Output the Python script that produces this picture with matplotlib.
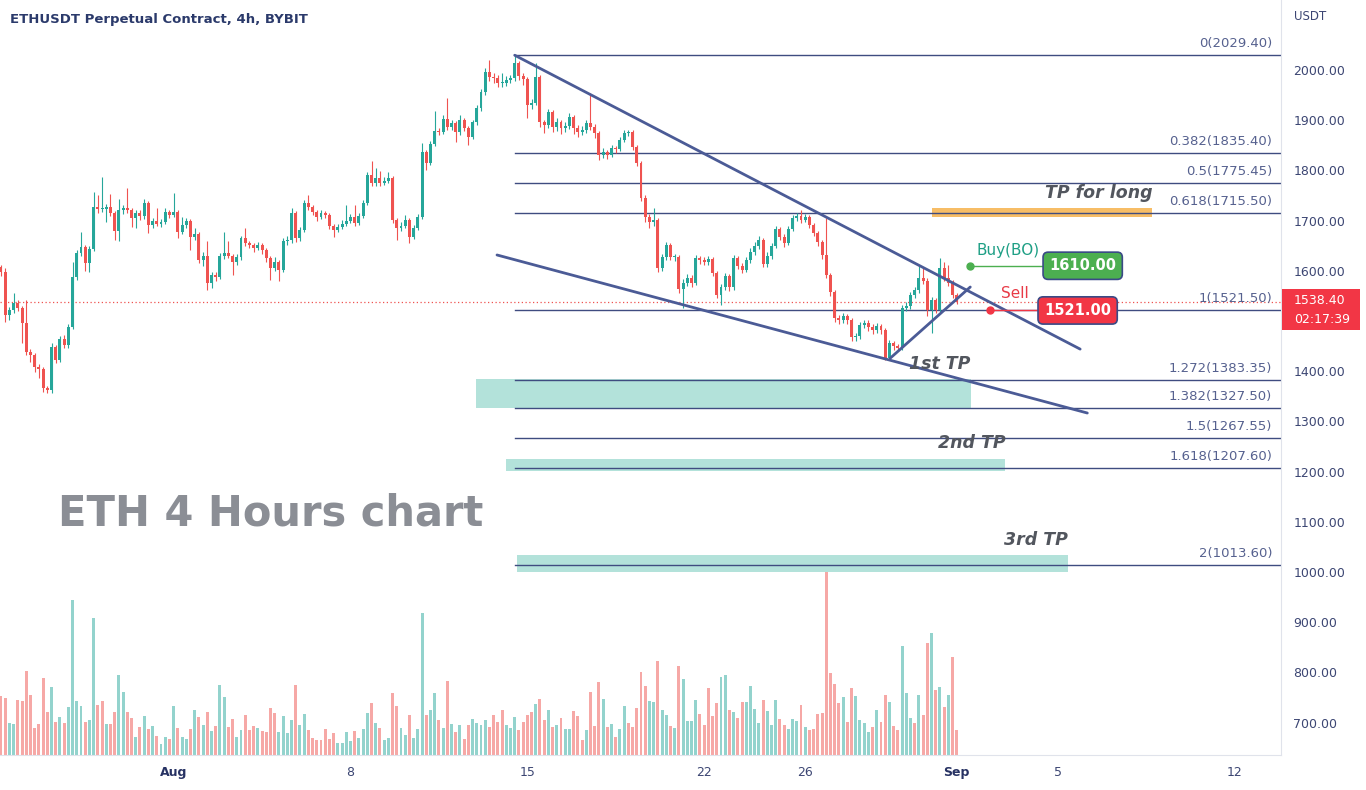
import matplotlib.pyplot as plt
import matplotlib.transforms as mtransforms
from matplotlib.patches import Rectangle

plt.rcParams['font.family'] = ['DejaVu Sans']

# ETHUSDT 4h candles (first one is cut at the left edge)
open0 = 1608
closes = [
    1597,
    1512, 1522, 1536, 1526, 1496, 1438, 1432, 1408, 1404, 1366,
    1362, 1448, 1422, 1464, 1452, 1488, 1588, 1635, 1647, 1615,
    1643, 1727, 1723, 1723, 1727, 1715, 1679, 1721, 1725, 1721,
    1705, 1715, 1709, 1735, 1691, 1699, 1693, 1697, 1717, 1711,
    1717, 1677, 1691, 1699, 1667, 1673, 1621, 1629, 1576, 1591,
    1588, 1629, 1635, 1629, 1617, 1627, 1665, 1655, 1651, 1645,
    1651, 1641, 1625, 1605, 1617, 1601, 1659, 1661, 1715, 1665,
    1681, 1735, 1727, 1717, 1707, 1715, 1711, 1689, 1681, 1687,
    1693, 1699, 1707, 1695, 1709, 1735, 1791, 1775, 1785, 1775,
    1779, 1785, 1701, 1685, 1689, 1701, 1667, 1685, 1707, 1837,
    1815, 1853, 1878, 1876, 1902, 1886, 1894, 1876, 1900, 1884,
    1866, 1896, 1924, 1956, 1996, 1986, 1984, 1974, 1974, 1980,
    1984, 2014, 1988, 1982, 1930, 1934, 1986, 1896, 1890, 1916,
    1886, 1896, 1884, 1888, 1906, 1884, 1876, 1880, 1894, 1886,
    1874, 1831, 1837, 1831, 1845, 1843, 1860, 1874, 1876, 1847,
    1815, 1745, 1707, 1697, 1701, 1605, 1627, 1651, 1627, 1627,
    1564, 1576, 1586, 1576, 1625, 1621, 1617, 1623, 1595, 1552,
    1568, 1590, 1568, 1625, 1609, 1601, 1621, 1637, 1649, 1661,
    1613, 1629, 1649, 1683, 1667, 1655, 1683, 1705, 1709, 1701,
    1707, 1691, 1675, 1657, 1631, 1591, 1558, 1506, 1502, 1510,
    1502, 1468, 1470, 1492, 1496, 1488, 1482, 1490, 1482, 1426,
    1456, 1450, 1446, 1526, 1530, 1552, 1562, 1586, 1580, 1522,
    1542, 1522, 1605, 1586, 1576, 1552, 1538.4,
]
highs = [
    1612,
    1605, 1528, 1556, 1542, 1530, 1542, 1444, 1436, 1414, 1408,
    1370, 1456, 1452, 1470, 1472, 1494, 1617, 1641, 1677, 1651,
    1649, 1757, 1751, 1787, 1733, 1753, 1719, 1743, 1731, 1765,
    1725, 1721, 1721, 1743, 1739, 1705, 1725, 1703, 1725, 1721,
    1755, 1721, 1707, 1705, 1703, 1685, 1677, 1637, 1659, 1597,
    1597, 1635, 1677, 1659, 1633, 1633, 1669, 1685, 1659, 1655,
    1657, 1655, 1645, 1629, 1627, 1621, 1665, 1669, 1725, 1719,
    1687, 1741, 1751, 1731, 1721, 1721, 1719, 1715, 1693, 1693,
    1701, 1731, 1713, 1731, 1715, 1741, 1797, 1819, 1805, 1799,
    1787, 1797, 1789, 1705, 1697, 1711, 1705, 1691, 1713, 1855,
    1841, 1859, 1918, 1884, 1910, 1944, 1900, 1898, 1910, 1904,
    1888, 1900, 1930, 1962, 2004, 2020, 1994, 1990, 1994, 1988,
    1990, 2029.4, 2018, 1994, 1986, 1942, 2014, 1990, 1900, 1922,
    1920, 1904, 1900, 1896, 1914, 1910, 1890, 1888, 1900, 1954,
    1892, 1878, 1845, 1841, 1851, 1849, 1866, 1880, 1880, 1880,
    1851, 1819, 1751, 1713, 1725, 1705, 1633, 1657, 1655, 1633,
    1631, 1584, 1594, 1591, 1631, 1629, 1627, 1629, 1627, 1599,
    1574, 1596, 1594, 1631, 1629, 1615, 1627, 1645, 1657, 1669,
    1665, 1637, 1655, 1689, 1687, 1673, 1689, 1711, 1715, 1721,
    1713, 1711, 1695, 1679, 1661, 1705, 1595, 1562, 1512, 1516,
    1514, 1506, 1476, 1498, 1502, 1502, 1494, 1496, 1494, 1486,
    1462, 1460, 1454, 1532, 1538, 1558, 1568, 1609, 1605, 1586,
    1548, 1546, 1625, 1617, 1611, 1582, 1556,
]
lows = [
    1590,
    1498, 1502, 1516, 1520, 1456, 1432, 1418, 1398, 1386, 1358,
    1356, 1356, 1416, 1418, 1446, 1446, 1484, 1582, 1629, 1600,
    1597, 1640, 1715, 1717, 1697, 1709, 1661, 1659, 1713, 1715,
    1687, 1685, 1701, 1703, 1675, 1685, 1689, 1687, 1693, 1705,
    1707, 1665, 1673, 1685, 1641, 1661, 1615, 1609, 1562, 1566,
    1580, 1584, 1623, 1625, 1591, 1611, 1621, 1649, 1645, 1637,
    1641, 1633, 1617, 1582, 1599, 1580, 1597, 1651, 1655, 1657,
    1659, 1677, 1721, 1711, 1699, 1703, 1705, 1683, 1667, 1677,
    1683, 1689, 1695, 1689, 1691, 1705, 1731, 1769, 1769, 1769,
    1771, 1775, 1695, 1661, 1679, 1685, 1655, 1663, 1681, 1703,
    1801, 1811, 1849, 1870, 1872, 1880, 1880, 1856, 1870, 1878,
    1851, 1862, 1890, 1918, 1950, 1978, 1974, 1966, 1966, 1968,
    1974, 1978, 1980, 1970, 1904, 1922, 1930, 1886, 1874, 1884,
    1876, 1878, 1872, 1876, 1882, 1872, 1866, 1870, 1874, 1880,
    1864, 1821, 1825, 1823, 1827, 1835, 1839, 1856, 1868, 1841,
    1809, 1739, 1697, 1685, 1689, 1597, 1599, 1621, 1621, 1619,
    1556, 1526, 1570, 1568, 1572, 1613, 1611, 1611, 1589, 1546,
    1532, 1562, 1560, 1562, 1603, 1595, 1597, 1615, 1631, 1643,
    1607, 1607, 1623, 1645, 1661, 1647, 1651, 1679, 1699, 1695,
    1697, 1685, 1669, 1649, 1623, 1585, 1550, 1498, 1494, 1496,
    1494, 1460, 1460, 1464, 1486, 1480, 1474, 1476, 1474, 1422,
    1422, 1442, 1440, 1442, 1520, 1524, 1546, 1556, 1574, 1510,
    1476, 1516, 1518, 1580, 1570, 1546, 1534,
]
volumes = [
    59, 57, 32, 31, 55, 54, 84, 60, 27, 31,
    77, 43, 68, 33, 38, 32, 48, 155, 54, 49,
    33, 35, 137, 50, 54, 31, 31, 43, 80, 63,
    43, 37, 18, 28, 39, 26, 29, 19, 11, 18,
    16, 49, 27, 18, 16, 26, 45, 38, 30, 43,
    24, 29, 70, 58, 28, 36, 18, 25, 40, 25,
    29, 27, 24, 23, 47, 42, 23, 39, 22, 35,
    70, 30, 41, 25, 17, 15, 15, 26, 16, 22,
    12, 12, 23, 14, 24, 17, 26, 42, 52, 32,
    27, 15, 17, 62, 49, 27, 20, 40, 17, 26,
    142, 40, 45, 62, 35, 27, 74, 31, 23, 30,
    16, 30, 36, 32,
    30, 35, 28, 40, 33, 45, 30, 27, 38, 25, 33, 40,
    43, 51, 56, 35, 45, 28, 30, 37, 26, 26,
    44, 39, 15, 25, 63, 29, 73, 56, 28, 31,
    18, 26, 49, 32, 28, 47, 83, 69, 54, 53,
    94, 45, 40, 29, 27, 89,
    76, 34, 34, 55, 41, 30, 67, 39, 52, 78,
    80, 45, 43, 37, 53, 53, 69, 46, 32, 55,
    44, 30, 55, 36, 30, 26, 36, 34, 50, 28,
    25, 26, 41, 42, 188, 82, 71, 52, 58, 33,
    67, 59, 35, 32, 23, 28, 45, 33, 60, 53,
    29, 25, 109, 62, 37, 32, 60, 40, 112, 122,
    65, 68, 48, 60, 98, 25,
]
volume_dir = (
    "rrggrrrrrr" "rrgrgrgggg" "rggrrgrrgg" "rrgrgrgrgg" "rgrggrgrgr"
    "grggrrggrr" "rgrrrrgggg" "rggrrrrrrr" "ggggrgggrg" "rggrrggrgg"
    "grggrgrgrg" "rrgg"
    "ggrrrrgggrrr"
    "rgrrgrgrgg" "rrrgrrrgrg" "rggrrrrrgg" "rggrgr"
    "ggggrrrrrg" "grgrrggggr" "gggrrgggrg" "rrrrrrrrgr"
    "rggggrgrrg" "rrgggrgrrg" "rgrgrr"
)

fib_levels = [0, 0.382, 0.5, 0.618, 1, 1.272, 1.382, 1.5, 1.618, 2]
fib_prices = [2029.40, 1835.40, 1775.45, 1715.50, 1521.50,
              1383.35, 1327.50, 1267.55, 1207.60, 1013.60]
fib_start = 122

price_ticks = [700, 800, 900, 1000, 1100, 1200, 1300, 1400,
               1600, 1700, 1800, 1900, 2000]
date_pos = [41, 83, 125, 167, 191, 227, 251, 293]
date_labels = ['Aug', '8', '15', '22', '26', 'Sep', '5', '12']

# drawings: (bar index, price)
upper_line = [(122, 2029.4), (256.3, 1444)]
lower_line = [(117.8, 1631.5), (258.0, 1316.7)]
rising_line = [(211.2, 1426), (230.2, 1567.7)]
tp_boxes = [  # x0, x1, p0, p1, colour
    (221.1, 273.4, 1707, 1725, '#f7bd66'),
    (112.8, 230.4, 1327, 1384.5, '#b3e2da'),
    (120.0, 238.5, 1201, 1225, '#b3e2da'),
    (122.6, 253.4, 1000, 1034, '#b3e2da'),
]
tp_texts = [('TP for long', 273.4, 1755), ('1st TP', 230.2, 1414),
            ('2nd TP', 238.5, 1257), ('3rd TP', 253.4, 1064)]

buy_price = 1610.00
sell_price = 1521.00
last_price = 1538.40
countdown = '02:17:39'

UP, DOWN = '#26a69a', '#ef5350'
VUP, VDOWN = '#93d3cd', '#f6a8a6'
NAVY = '#3f4c80'

W, H = 1366, 790
fig = plt.figure(figsize=(W / 100, H / 100), dpi=100)
ax = fig.add_axes([0, 35 / H, 1281 / W, 755 / H])
axv = ax.twinx()

n = len(closes)
xs = list(range(n))
opens = [open0] + closes[:-1]

# volume
vcol = [VUP if d == 'g' else VDOWN for d in volume_dir]
axv.bar(xs, volumes, width=0.7, color=vcol, linewidth=0)
axv.set_ylim(0, 755)
axv.set_yticks([])
for s in axv.spines.values():
    s.set_visible(False)

ax.set_zorder(axv.get_zorder() + 1)
ax.patch.set_visible(False)

# candles
ccol = [UP if c >= o else DOWN for o, c in zip(opens, closes)]
ax.vlines(xs, lows, highs, colors=ccol, linewidth=0.8, zorder=3)
bottoms = [min(o, c) for o, c in zip(opens, closes)]
heights = [max(abs(c - o), 1.5) for o, c in zip(opens, closes)]
ax.bar(xs, heights, bottom=bottoms, width=0.7, color=ccol, linewidth=0, zorder=4)

# tp boxes
for x0, x1, p0, p1, col in tp_boxes:
    ax.add_patch(Rectangle((x0, p0), x1 - x0, p1 - p0, facecolor=col,
                           edgecolor='none', zorder=1))

# fibonacci levels
trans = mtransforms.blended_transform_factory(ax.transAxes, ax.transData)
for lvl, p in zip(fib_levels, fib_prices):
    ax.plot([fib_start, 400], [p, p], color=NAVY, linewidth=1, zorder=2)
    ax.annotate(f'{lvl:g}({p:.2f})', xy=(0.993, p), xycoords=trans,
                xytext=(0, 3.5), textcoords='offset points', ha='right',
                va='bottom', fontsize=9.5, color='#56618f', zorder=6)

# trend lines
for line in (upper_line, lower_line, rising_line):
    ax.plot([line[0][0], line[1][0]], [line[0][1], line[1][1]],
            color='#4b5b96', linewidth=2, solid_capstyle='round', zorder=5)

for txt, x, p in tp_texts:
    ax.text(x, p, txt, ha='right', va='center', fontsize=12.5,
            fontweight='bold', fontstyle='italic', color='#52565e', zorder=6)

# current price line
ax.axhline(last_price, color=DOWN, linewidth=0.9, linestyle=(0, (1, 2)), zorder=2)

# buy / sell markers
ax.plot([230.2, 248.2], [buy_price, buy_price], color='#4caf50', linewidth=1, zorder=6)
ax.plot([230.2], [buy_price], 'o', color='#4caf50', markersize=5, zorder=7)
ax.text(231.6, 1641, 'Buy(BO)', ha='left', va='center', fontsize=11,
        color='#1e9f85', zorder=7)
ax.text(256.9, buy_price, f'{buy_price:.2f}', ha='center', va='center',
        fontsize=10.5, fontweight='bold', color='white', zorder=8,
        bbox=dict(boxstyle='round,pad=0.42,rounding_size=0.35',
                  facecolor='#4caf50', edgecolor='#3a4a86', linewidth=1.2))

ax.plot([234.9, 247.0], [sell_price, sell_price], color='#f23645', linewidth=1, zorder=6)
ax.plot([234.9], [sell_price], 'o', color='#f23645', markersize=5, zorder=7)
ax.text(237.5, 1554, 'Sell', ha='left', va='center', fontsize=11,
        color='#e83a46', zorder=7)
ax.text(255.7, sell_price, f'{sell_price:.2f}', ha='center', va='center',
        fontsize=10.5, fontweight='bold', color='white', zorder=8,
        bbox=dict(boxstyle='round,pad=0.42,rounding_size=0.35',
                  facecolor='#f23645', edgecolor='#3a4a86', linewidth=1.2))

# axes
ax.set_xlim(-0.24, 304.0)
ax.set_ylim(635.5, 2139.4)
axv.set_xlim(-0.24, 304.0)
for side in ('top', 'left'):
    ax.spines[side].set_visible(False)
ax.spines['right'].set_color('#e0e3eb')
ax.spines['bottom'].set_color('#e0e3eb')

ax.yaxis.tick_right()
ax.set_yticks(price_ticks)
ax.set_yticklabels([f'{t:.2f}' for t in price_ticks])
ax.tick_params(axis='y', length=0, pad=9, labelsize=9, labelcolor='#3c4673')

ax.set_xticks(date_pos)
ax.set_xticklabels(date_labels)
ax.tick_params(axis='x', length=0, pad=8, labelsize=9, labelcolor='#3c4673')
for lab in ax.get_xticklabels():
    if lab.get_text() in ('Aug', 'Sep'):
        lab.set_fontweight('bold')
        lab.set_color('#273263')

# price label on the axis
fig.patches.append(Rectangle((1282 / W, 1 - 330 / H), 78 / W, 41 / H,
                             transform=fig.transFigure, facecolor='#f23645',
                             edgecolor='none'))
fig.text(1294 / W, 1 - 301 / H, f'{last_price:.2f}', color='white',
         fontsize=9, va='center', ha='left')
fig.text(1294 / W, 1 - 320 / H, countdown, color='white',
         fontsize=9, va='center', ha='left')

fig.text(1294 / W, 1 - 17 / H, 'USDT', color='#3c4673', fontsize=8.5,
         va='center', ha='left')
fig.text(10 / W, 1 - 20 / H, 'ETHUSDT Perpetual Contract, 4h, BYBIT',
         color='#2b3a6b', fontsize=9.5, fontweight='bold', va='center', ha='left')
fig.text(58 / W, 1 - 513 / H, 'ETH 4 Hours chart', color='#8b8e95',
         fontsize=30, fontweight='bold', va='center', ha='left')

fig.savefig('out.png', dpi=100)
